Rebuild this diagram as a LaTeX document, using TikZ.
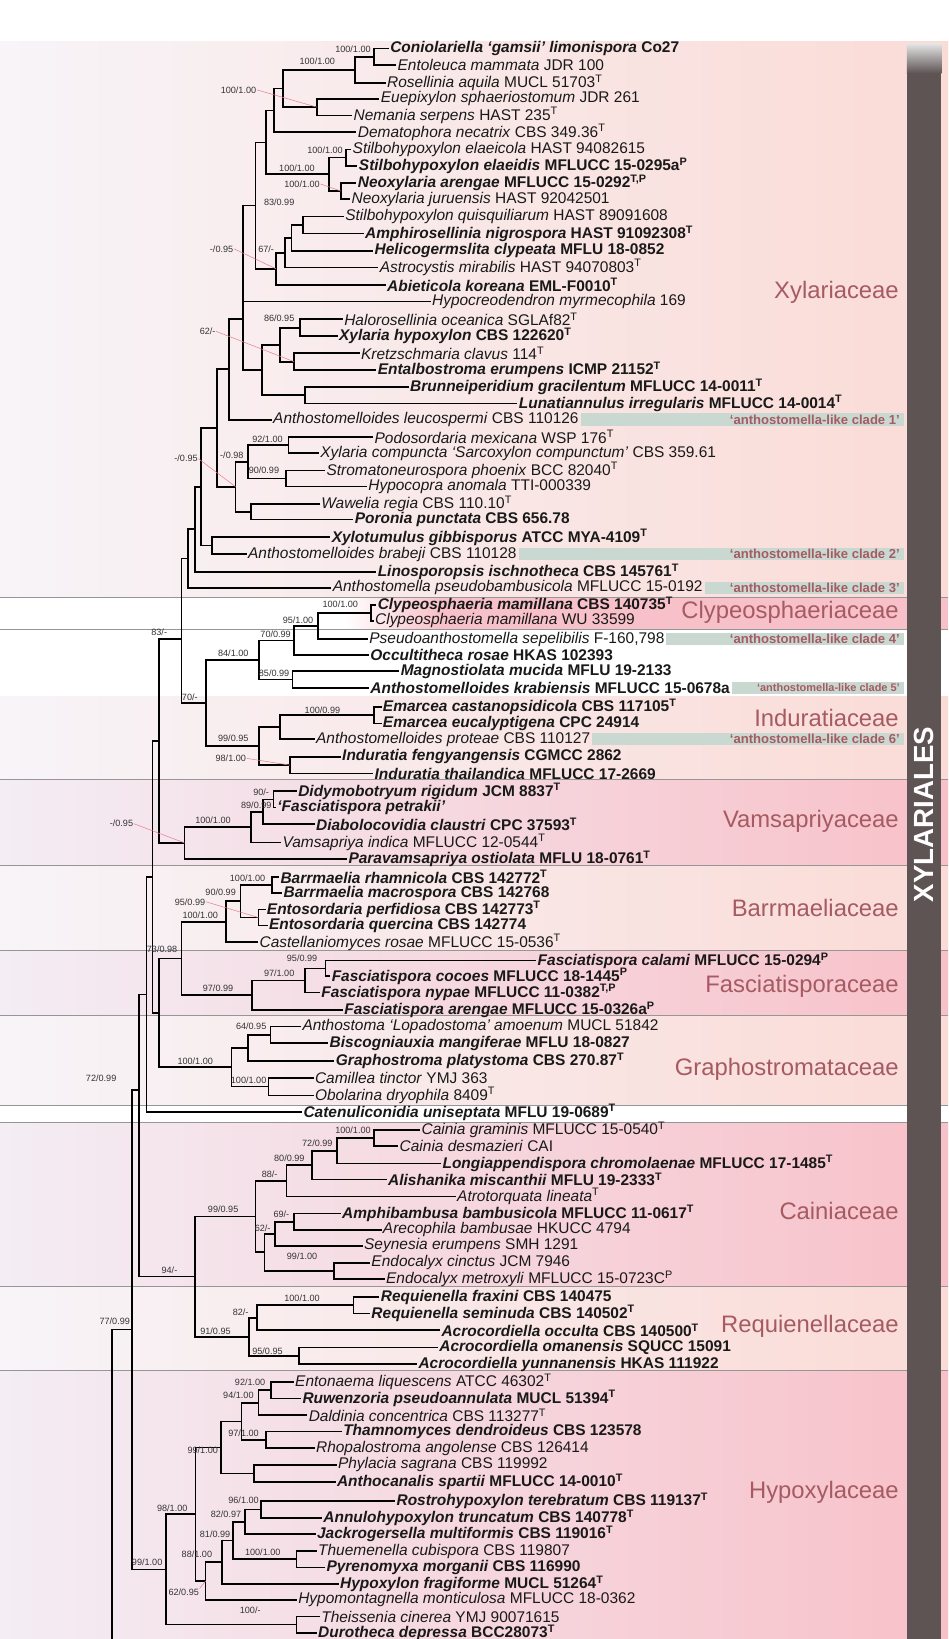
\documentclass[tikz,border=0pt]{standalone}
\usepackage{fontspec}
\setmainfont{Liberation Sans}
\usetikzlibrary{calc}
\definecolor{famcol}{RGB}{166,90,98}
\definecolor{lightL}{RGB}{248,244,248}
\definecolor{lightR}{RGB}{250,219,214}
\definecolor{strongL}{RGB}{244,237,244}
\definecolor{strongR}{RGB}{248,193,201}
\definecolor{barcol}{RGB}{94,84,84}
\definecolor{cladeg}{RGB}{201,217,210}
\definecolor{pinkc}{RGB}{232,128,140}
\definecolor{sepg}{RGB}{150,150,150}
\newcommand\myleaffont{\fontsize{14.8}{15}\selectfont}
\newcommand\mysupfont{\fontsize{8.7}{9}\selectfont}
\newcommand\gi[1]{\textit{#1}}
\newcommand\tsup[1]{\textsuperscript{#1}}
\newcommand\leafn[4]{\node[leafnode] (l#1) at (#2,#3) {#4};}
\newcommand\mkmid[4]{\path let \p1=(#3), \p2=(#4) in coordinate (#1) at (#2pt,{0.5*\y1+0.5*\y2});}
\newcommand\mkclade[4]{\mkmid{#1}{#2}{#3}{#4}\draw[br] (#1) |- (#3) (#1) |- (#4);}
\newcommand\supl[4]{\node[suplab] (s#1) at (#2,#3) {#4};}
\tikzset{
  br/.style={line width=1.6pt,black},
  leafnode/.style={anchor=west,inner xsep=1.2pt,inner ysep=0pt,font=\myleaffont,text=black!90},
  suplab/.style={anchor=east,inner sep=0.5pt,font=\mysupfont,text=black!80},
  pinkln/.style={draw=pinkc,line width=0.5pt},
  sepline/.style={draw=sepg,line width=0.7pt},
  famlab/.style={anchor=east,inner sep=0pt,text=famcol,font=\fontsize{22.8}{23}\selectfont},
  cladelab/.style={anchor=east,inner sep=0pt,text=famcol,font=\fontsize{12.5}{13}\selectfont\bfseries},
}
\begin{document}
\begin{tikzpicture}[x=1pt,y=-1pt]
\useasboundingbox (0,0) rectangle (907,1568);
\fill[white] (0,0) rectangle (907,1568);
% family bands
\shade[left color=lightL,right color=lightR] (0,40) rectangle (907,571.5);
\shade[left color=white,right color=strongR] (330,571.5) rectangle (420,602.5);
\fill[strongR] (420,571.5) rectangle (907,602.5);
\shade[left color=lightL,right color=lightR] (0,666) rectangle (907,746);
\shade[left color=strongL,right color=strongR] (0,746) rectangle (907,827.6);
\shade[left color=lightL,right color=lightR] (0,827.6) rectangle (907,909.6);
\shade[left color=strongL,right color=strongR] (0,909.6) rectangle (907,971.7);
\shade[left color=lightL,right color=lightR] (0,971.7) rectangle (907,1057);
\shade[left color=strongL,right color=strongR] (0,1073.5) rectangle (907,1230.4);
\shade[left color=lightL,right color=lightR] (0,1230.4) rectangle (907,1311);
\shade[left color=strongL,right color=strongR] (0,1311) rectangle (907,1568);
\foreach \yy in {571.5,602.5,746,827.6,909.6,971.7,1057,1073.5,1230.4,1311}
  \draw[sepline] (0,\yy) -- (907,\yy);
% leaves
\leafn{1}{372}{46.3}{\textbf{\gi{Coniolariella ‘gamsii’ limonispora} Co27}}
\leafn{2}{379}{62.2}{\gi{Entoleuca mammata} JDR 100}
\leafn{3}{369}{79.5}{\gi{Rosellinia aquila} MUCL 51703\tsup{T}}
\leafn{4}{363}{94.5}{\gi{Euepixylon sphaeriostomum} JDR 261}
\leafn{5}{337}{110.5}{\gi{Nemania serpens} HAST 235\tsup{T}}
\leafn{6}{341}{126.5}{\gi{Dematophora necatrix} CBS 349.36\tsup{T}}
\leafn{7}{336}{143}{\gi{Stilbohypoxylon elaeicola} HAST 94082615}
\leafn{8}{342}{158.5}{\textbf{\gi{Stilbohypoxylon elaeidis} MFLUCC 15-0295a\tsup{P}}}
\leafn{9}{341}{175}{\textbf{\gi{Neoxylaria arengae} MFLUCC 15-0292\tsup{T,P}}}
\leafn{10}{335}{190.5}{\gi{Neoxylaria juruensis} HAST 92042501}
\leafn{11}{329}{207}{\gi{Stilbohypoxylon quisquiliarum} HAST 89091608}
\leafn{12}{348}{223.5}{\textbf{\gi{Amphirosellinia nigrospora} HAST 91092308\tsup{T}}}
\leafn{13}{357}{240}{\textbf{\gi{Helicogermslita clypeata} MFLU 18-0852}}
\leafn{14}{362}{256}{\gi{Astrocystis mirabilis} HAST 94070803\tsup{T}}
\leafn{15}{369}{272.5}{\textbf{\gi{Abieticola koreana} EML-F0010\tsup{T}}}
\leafn{16}{412}{288.5}{\gi{Hypocreodendron myrmecophila} 169}
\leafn{17}{328}{305.5}{\gi{Halorosellinia oceanica} SGLAf82\tsup{T}}
\leafn{18}{323}{321.5}{\textbf{\gi{Xylaria hypoxylon} CBS 122620\tsup{T}}}
\leafn{19}{344}{338}{\gi{Kretzschmaria clavus} 114\tsup{T}}
\leafn{20}{360}{354}{\textbf{\gi{Entalbostroma erumpens} ICMP 21152\tsup{T}}}
\leafn{21}{391}{370}{\textbf{\gi{Brunneiperidium gracilentum} MFLUCC 14-0011\tsup{T}}}
\leafn{22}{495}{386}{\textbf{\gi{Lunatiannulus irregularis} MFLUCC 14-0014\tsup{T}}}
\leafn{23}{260}{401.5}{\gi{Anthostomelloides leucospermi} CBS 110126}
\leafn{24}{357}{418}{\gi{Podosordaria mexicana} WSP 176\tsup{T}}
\leafn{25}{305}{433.5}{\gi{Xylaria compuncta ‘Sarcoxylon compunctum’} CBS 359.61}
\leafn{26}{311}{450}{\gi{Stromatoneurospora phoenix} BCC 82040\tsup{T}}
\leafn{27}{351}{465.5}{\gi{Hypocopra anomala} TTI-000339}
\leafn{28}{306}{482}{\gi{Wawelia regia} CBS 110.10\tsup{T}}
\leafn{29}{338}{497}{\textbf{\gi{Poronia punctata} CBS 656.78}}
\leafn{30}{316}{514}{\textbf{\gi{Xylotumulus gibbisporus} ATCC MYA-4109\tsup{T}}}
\leafn{31}{236}{530}{\gi{Anthostomelloides brabeji} CBS 110128}
\leafn{32}{360}{547}{\textbf{\gi{Linosporopsis ischnotheca} CBS 145761\tsup{T}}}
\leafn{33}{317}{562.5}{\gi{Anthostomella pseudobambusicola} MFLUCC 15-0192}
\leafn{34}{360}{578.5}{\textbf{\gi{Clypeosphaeria mamillana} CBS 140735\tsup{T}}}
\leafn{35}{357.5}{594}{\gi{Clypeosphaeria mamillana} WU 33599}
\leafn{36}{352}{611.5}{\gi{Pseudoanthostomella sepelibilis} F-160,798}
\leafn{37}{353}{626.5}{\textbf{\gi{Occultitheca rosae} HKAS 102393}}
\leafn{38}{382}{642}{\textbf{\gi{Magnostiolata mucida} MFLU 19-2133}}
\leafn{39}{353}{658}{\textbf{\gi{Anthostomelloides krabiensis} MFLUCC 15-0678a}}
\leafn{40}{365}{676.5}{\textbf{\gi{Emarcea castanopsidicola} CBS 117105\tsup{T}}}
\leafn{41}{365}{692}{\textbf{\gi{Emarcea eucalyptigena} CPC 24914}}
\leafn{42}{301}{707}{\gi{Anthostomelloides proteae} CBS 110127}
\leafn{43}{326}{724}{\textbf{\gi{Induratia fengyangensis} CGMCC 2862}}
\leafn{44}{357}{740}{\textbf{\gi{Induratia thailandica} MFLUCC 17-2669}}
\leafn{45}{284}{757}{\textbf{\gi{Didymobotryum rigidum} JCM 8837\tsup{T}}}
\leafn{46}{264}{772.5}{\textbf{\gi{‘Fasciatispora petrakii’}}}
\leafn{47}{301}{788.5}{\textbf{\gi{Diabolocovidia claustri} CPC 37593\tsup{T}}}
\leafn{48}{269}{806}{\gi{Vamsapriya indica} MFLUCC 12-0544\tsup{T}}
\leafn{49}{332}{821.5}{\textbf{\gi{Paravamsapriya ostiolata} MFLU 18-0761\tsup{T}}}
\leafn{50}{267}{839}{\textbf{\gi{Barrmaelia rhamnicola} CBS 142772\tsup{T}}}
\leafn{51}{270}{854.5}{\textbf{\gi{Barrmaelia macrospora} CBS 142768}}
\leafn{52}{254}{870}{\textbf{\gi{Entosordaria perfidiosa} CBS 142773\tsup{T}}}
\leafn{53}{256}{885.5}{\textbf{\gi{Entosordaria quercina} CBS 142774}}
\leafn{54}{247}{901.5}{\gi{Castellaniomyces rosae} MFLUCC 15-0536\tsup{T}}
\leafn{55}{513}{919}{\textbf{\gi{Fasciatispora calami} MFLUCC 15-0294\tsup{P}}}
\leafn{56}{316}{934}{\textbf{\gi{Fasciatispora cocoes} MFLUCC 18-1445\tsup{P}}}
\leafn{57}{306}{949.5}{\textbf{\gi{Fasciatispora nypae} MFLUCC 11-0382\tsup{T,P}}}
\leafn{58}{328}{966}{\textbf{\gi{Fasciatispora arengae} MFLUCC 15-0326a\tsup{P}}}
\leafn{59}{288}{982}{\gi{Anthostoma ‘Lopadostoma’ amoenum} MUCL 51842}
\leafn{60}{314}{998}{\textbf{\gi{Biscogniauxia mangiferae} MFLU 18-0827}}
\leafn{61}{320}{1015}{\textbf{\gi{Graphostroma platystoma} CBS 270.87\tsup{T}}}
\leafn{62}{300}{1031}{\gi{Camillea tinctor} YMJ 363}
\leafn{63}{300}{1048}{\gi{Obolarina dryophila} 8409\tsup{T}}
\leafn{64}{289}{1064}{\textbf{\gi{Catenuliconidia uniseptata} MFLU 19-0689\tsup{T}}}
\leafn{65}{402}{1081}{\gi{Cainia graminis} MFLUCC 15-0540\tsup{T}}
\leafn{66}{381}{1096.5}{\gi{Cainia desmazieri} CAI}
\leafn{67}{422}{1113}{\textbf{\gi{Longiappendispora chromolaenae} MFLUCC 17-1485\tsup{T}}}
\leafn{68}{370}{1128.5}{\textbf{\gi{Alishanika miscanthii} MFLU 19-2333\tsup{T}}}
\leafn{69}{436}{1144.5}{\gi{Atrotorquata lineata}\tsup{T}}
\leafn{70}{326}{1161}{\textbf{\gi{Amphibambusa bambusicola} MFLUCC 11-0617\tsup{T}}}
\leafn{71}{365}{1176.5}{\gi{Arecophila bambusae} HKUCC 4794}
\leafn{72}{347}{1192}{\gi{Seynesia erumpens} SMH 1291}
\leafn{73}{354}{1208}{\gi{Endocalyx cinctus} JCM 7946}
\leafn{74}{368}{1223.5}{\gi{Endocalyx metroxyli} MFLUCC 15-0723C\tsup{P}}
\leafn{75}{363}{1241}{\textbf{\gi{Requienella fraxini} CBS 140475}}
\leafn{76}{354}{1256.5}{\textbf{\gi{Requienella seminuda} CBS 140502\tsup{T}}}
\leafn{77}{421}{1272.5}{\textbf{\gi{Acrocordiella occulta} CBS 140500\tsup{T}}}
\leafn{78}{419}{1289}{\textbf{\gi{Acrocordiella omanensis} SQUCC 15091}}
\leafn{79}{399}{1305}{\textbf{\gi{Acrocordiella yunnanensis} HKAS 111922}}
\leafn{80}{281}{1322}{\gi{Entonaema liquescens} ATCC 46302\tsup{T}}
\leafn{81}{288}{1338}{\textbf{\gi{Ruwenzoria pseudoannulata} MUCL 51394\tsup{T}}}
\leafn{82}{294}{1354}{\gi{Daldinia concentrica} CBS 113277\tsup{T}}
\leafn{83}{327}{1369.5}{\textbf{\gi{Thamnomyces dendroideus} CBS 123578}}
\leafn{84}{301}{1385.5}{\gi{Rhopalostroma angolense} CBS 126414}
\leafn{85}{322}{1401.5}{\gi{Phylacia sagrana} CBS 119992}
\leafn{86}{321}{1417.5}{\textbf{\gi{Anthocanalis spartii} MFLUCC 14-0010\tsup{T}}}
\leafn{87}{378}{1436}{\textbf{\gi{Rostrohypoxylon terebratum} CBS 119137\tsup{T}}}
\leafn{88}{308}{1452}{\textbf{\gi{Annulohypoxylon truncatum} CBS 140778\tsup{T}}}
\leafn{89}{302}{1467.5}{\textbf{\gi{Jackrogersella multiformis} CBS 119016\tsup{T}}}
\leafn{90}{303}{1484}{\gi{Thuemenella cubispora} CBS 119807}
\leafn{91}{311}{1499.5}{\textbf{\gi{Pyrenomyxa morganii} CBS 116990}}
\leafn{92}{324}{1515.5}{\textbf{\gi{Hypoxylon fragiforme} MUCL 51264\tsup{T}}}
\leafn{93}{284}{1530.5}{\gi{Hypomontagnella monticulosa} MFLUCC 18-0362}
\leafn{94}{306}{1546.5}{\gi{Theissenia cinerea} YMJ 90071615}
\leafn{95}{303}{1562}{\textbf{\gi{Durotheca depressa} BCC28073\tsup{T}}}
% Xylariaceae
\mkclade{A}{357.7}{l1}{l2}
\mkclade{B}{339.7}{A}{l3}
\mkclade{C}{303}{l4}{l5}
\mkclade{D}{271}{B}{C}
\mkclade{E}{262}{D}{l6}
\mkclade{F}{331}{l7}{l8}
\mkclade{G}{326}{l9}{l10}
\mkclade{H}{315}{F}{G}
\mkclade{EE}{254.5}{E}{H}
\mkclade{I}{289.6}{l11}{l12}
\mkclade{J}{279}{I}{l13}
\mkclade{K}{272.5}{J}{l14}
\mkclade{L}{264}{K}{l15}
\mkclade{M}{244.3}{EE}{L}
\mkclade{Qa}{287}{l17}{l18}
\mkclade{Qb}{281.3}{l19}{l20}
\mkclade{Qc}{267.7}{Qa}{Qb}
\mkclade{Qd}{292}{l21}{l22}
\mkclade{Qe}{250.6}{Qc}{Qd}
\coordinate (X12) at (232.6,305);
\draw[br] (X12) |- (M) (X12) |- (l16) (X12) |- (Qe);
\mkclade{X13}{219}{X12}{l23}
\mkclade{Ra}{276}{l24}{l25}
\mkclade{Rb}{273.5}{l26}{l27}
\mkclade{Rc}{237}{Ra}{Rb}
\mkclade{Rd}{240}{l28}{l29}
\mkclade{Re}{225.3}{Rc}{Rd}
\mkclade{X14}{207.8}{X13}{Re}
\mkclade{Rf}{203}{l30}{l31}
\mkclade{X15}{192}{X14}{Rf}
\mkclade{X16}{186.3}{X15}{l32}
\mkclade{X17}{180}{X16}{l33}
% Clypeosphaeriaceae / Induratiaceae
\mkclade{Sa}{355}{l34}{l35}
\mkclade{Sb}{304.2}{Sa}{l36}
\mkclade{Sc}{281.3}{Sb}{l37}
\mkclade{Sd}{279.8}{l38}{l39}
\mkclade{Se}{248}{Sc}{Sd}
\mkclade{Ta}{358}{l40}{l41}
\mkclade{Tb}{267.7}{Ta}{l42}
\mkclade{Tc}{277.4}{l43}{l44}
\mkclade{Td}{248}{Tb}{Tc}
\mkclade{Y1}{197}{Se}{Td}
\coordinate (Z) at (173.7,611);
\draw[br] (Z) |- (X17) (Z) |- (Y1);
% Vamsapriyaceae
\mkclade{Va}{261.8}{l45}{l46}
\mkclade{Vb}{251.6}{Va}{l47}
\mkclade{Vc}{240}{Vb}{l48}
\mkclade{Vd}{176.6}{Vc}{l49}
\mkclade{W1}{152}{Z}{Vd}
% Barrmaeliaceae, Fasciatisporaceae, Graphostromataceae
\mkclade{Ba}{260.4}{l50}{l51}
\mkclade{Bb}{247.2}{l52}{l53}
\mkclade{Bc}{230.2}{Ba}{Bb}
\mkclade{Bd}{216.5}{Bc}{l54}
\mkclade{Fa}{311.5}{l55}{l56}
\mkclade{Fb}{292}{Fa}{l57}
\mkclade{Fc}{240.9}{Fb}{l58}
\mkclade{BF}{173.7}{Bd}{Fc}
\mkclade{Ga}{258.9}{l59}{l60}
\mkclade{Gb}{237}{Ga}{l61}
\mkclade{Gc}{257}{l62}{l63}
\mkclade{Gd}{221.4}{Gb}{Gc}
\mkclade{BFG}{152.3}{BF}{Gd}
\mkclade{W2}{146}{W1}{BFG}
\mkclade{W3}{140}{W2}{l64}
% Cainiaceae, Requienellaceae
\mkclade{Ka}{357.7}{l65}{l66}
\mkclade{Kb}{322.7}{Ka}{l67}
\mkclade{Kc}{298.3}{Kb}{l68}
\mkclade{Kd}{274}{Kc}{l69}
\mkclade{Ke}{281.3}{l70}{l71}
\mkclade{Kf}{263}{Ke}{l72}
\mkclade{Kg}{319.8}{l73}{l74}
\mkclade{Kh}{253}{Kf}{Kg}
\mkclade{Ki}{244.3}{Kd}{Kh}
\mkclade{Pa}{338.3}{l75}{l76}
\mkclade{Pb}{246}{Pa}{l77}
\mkclade{Pc}{286.2}{l78}{l79}
\mkclade{Pd}{238}{Pb}{Pc}
\mkclade{KQ}{186.3}{Ki}{Pd}
\coordinate (W4) at (133,1043);
\draw[br] (W4) |- (W3) (W4) |- (KQ);
% Hypoxylaceae
\mkclade{Ha}{259.4}{l80}{l81}
\mkclade{Hb}{247.2}{Ha}{l82}
\mkclade{Hc}{254.5}{l83}{l84}
\mkclade{Hd}{231.1}{Hb}{Hc}
\mkclade{He}{243.3}{l85}{l86}
\mkclade{Hf}{211.7}{Hd}{He}
\mkclade{Hg}{250}{l87}{l88}
\mkclade{Hh}{234.3}{Hg}{l89}
\mkclade{Hi}{283.5}{l90}{l91}
\mkclade{Hj}{222.7}{Hh}{Hi}
\mkclade{Hk}{212.3}{Hj}{l92}
\mkclade{Hl}{196.7}{Hk}{l93}
\mkclade{Hm}{187}{Hf}{Hl}
\mkclade{Hn}{283.5}{l94}{l95}
\mkclade{Ho}{159}{Hm}{Hn}
\coordinate (U) at (126,1272);
\draw[br] (U) |- (W4) (U) |- (Ho);
\coordinate (R0) at (107,1272);
\coordinate (R0b) at (107,1568);
\draw[br] (U) -- (R0) -- (R0b);
% support values
\supl{A}{355.3}{47}{100/1.00}
\supl{B}{321.2}{59}{100/1.00}
\supl{C}{245.8}{86}{100/1.00}
\supl{F}{328.6}{143.6}{100/1.00}
\supl{H}{301.7}{160.5}{100/1.00}
\supl{G}{306.6}{176}{100/1.00}
\supl{I}{282.3}{193.6}{83/0.99}
\supl{K}{262.8}{238.3}{67/-}
\supl{L}{223.8}{238}{-/0.95}
\supl{Qa}{282.3}{304.3}{86/0.95}
\supl{Qb}{206.8}{317}{62/-}
\supl{Ra}{271.1}{420}{92/1.00}
\supl{Rc}{233.6}{435.6}{-/0.98}
\supl{Rb}{267.7}{450}{90/0.99}
\supl{Re}{189.8}{438.8}{-/0.95}
\supl{Sa}{343.2}{578}{100/1.00}
\supl{Sb}{300.3}{593.5}{95/1.00}
\supl{Sc}{278.9}{606.3}{70/0.99}
\supl{Se}{238.4}{625.4}{84/1.00}
\supl{Sd}{277.4}{643.6}{85/0.99}
\supl{Z}{160.5}{605}{83/-}
\supl{Y1}{189.8}{667.5}{70/-}
\supl{Ta}{326.1}{679.3}{100/0.99}
\supl{Td}{238.4}{706.4}{99/0.95}
\supl{Tc}{236}{725.5}{98/1.00}
\supl{Va}{258}{758}{90/-}
\supl{Vb}{260.4}{770}{89/0.99}
\supl{Vc}{221.4}{784.6}{100/1.00}
\supl{Vd}{128}{788}{-/0.95}
\supl{Ba}{254.5}{840.5}{100/1.00}
\supl{Bc}{226.3}{853.7}{90/0.99}
\supl{Bb}{197}{862.7}{95/0.99}
\supl{Bd}{209.2}{876}{100/1.00}
\supl{BF}{170.3}{908}{73/0.98}
\supl{Fa}{304.2}{916.9}{95/0.99}
\supl{Fb}{282.3}{931}{97/1.00}
\supl{Fc}{223.8}{945.3}{97/0.99}
\supl{Ga}{255.5}{982}{64/0.95}
\supl{Gd}{204.4}{1015.5}{100/1.00}
\supl{Gc}{255.5}{1033}{100/1.00}
\supl{W4}{112}{1032}{72/0.99}
\supl{Ka}{355.3}{1080.8}{100/1.00}
\supl{Kb}{318.8}{1093.6}{72/0.99}
\supl{Kc}{292}{1107.6}{80/0.99}
\supl{Kd}{266.2}{1122.9}{88/-}
\supl{Ki}{228.7}{1156.4}{99/0.95}
\supl{Ke}{277.4}{1161.8}{69/-}
\supl{Kf}{259.5}{1174.6}{62/-}
\supl{Kg}{304.2}{1201.7}{99/1.00}
\supl{KQ}{170.3}{1215.4}{94/-}
\supl{Pa}{306.6}{1242.2}{100/1.00}
\supl{Pb}{238.4}{1255}{82/-}
\supl{Pd}{221.4}{1273.4}{91/0.95}
\supl{Pc}{271.1}{1292.6}{95/0.95}
\supl{U}{125}{1264}{77/0.99}
\supl{Ha}{254.5}{1321.9}{92/1.00}
\supl{Hb}{243.3}{1334.6}{94/1.00}
\supl{Hc}{248.2}{1371.3}{97/1.00}
\supl{Hf}{209.2}{1387.3}{99/1.00}
\supl{Hm}{180}{1442.5}{98/1.00}
\supl{Hg}{248.2}{1435}{96/1.00}
\supl{Hh}{231.4}{1448.5}{82/0.97}
\supl{Hj}{221}{1467.6}{81/0.99}
\supl{Hi}{269}{1485.2}{100/1.00}
\supl{Hk}{203.6}{1486.8}{88/1.00}
\supl{Hl}{191}{1523.5}{62/0.95}
\supl{Ho}{156}{1494.7}{99/1.00}
\supl{Hn}{250}{1540}{100/-}
% pink pointer lines
\draw[pinkln] (sC.east) -- (C);
\draw[pinkln] (sG.east) -- (G);
\draw[pinkln] (sL.east) -- (L);
\draw[pinkln] (sQb.east) -- (Qb);
\draw[pinkln] (sRe.east) -- (Re);
\draw[pinkln] (sTc.east) -- (Tc);
\draw[pinkln] (sVd.east) -- (Vd);
\draw[pinkln] (sBb.east) -- (Bb);
\draw[pinkln] (sHl.north east) -- (Hl);
% anthostomella-like clades
\fill[cladeg] ($(l23.east)+(0.5,-6)$) rectangle (865,407.5);
\node[cladelab] (c1) at (861,401.5) {‘anthostomella-like clade 1’};
\fill[cladeg] ($(l31.east)+(0.5,-6)$) rectangle (865,536);
\node[cladelab] (c2) at (861,530) {‘anthostomella-like clade 2’};
\fill[cladeg] ($(l33.east)+(0.5,-6)$) rectangle (865,568.5);
\node[cladelab] (c3) at (861,562.5) {‘anthostomella-like clade 3’};
\fill[cladeg] ($(l36.east)+(0.5,-6)$) rectangle (865,617.5);
\node[cladelab] (c4) at (861,611.5) {‘anthostomella-like clade 4’};
\fill[cladeg] ($(l39.east)+(0.5,-6)$) rectangle (865,664);
\node[cladelab,font=\fontsize{10.5}{11}\selectfont\bfseries] (c5) at (861,658) {‘anthostomella-like clade 5’};
\fill[cladeg] ($(l42.east)+(0.5,-6)$) rectangle (865,713);
\node[cladelab] (c6) at (861,707) {‘anthostomella-like clade 6’};
% family labels
\node[famlab] (fXy) at (860,279.7) {Xylariaceae};
\node[famlab] (fCl) at (860,586) {Clypeosphaeriaceae};
\node[famlab] (fIn) at (860,687.3) {Induratiaceae};
\node[famlab] (fVa) at (860,786) {Vamsapriyaceae};
\node[famlab] (fBa) at (860,869) {Barrmaeliaceae};
\node[famlab] (fFa) at (860,943.7) {Fasciatisporaceae};
\node[famlab] (fGr) at (860,1023.4) {Graphostromataceae};
\node[famlab] (fCa) at (860,1158.6) {Cainiaceae};
\node[famlab] (fRe) at (860,1268.6) {Requienellaceae};
\node[famlab] (fHy) at (860,1427.8) {Hypoxylaceae};
% order bar
\shade[top color=black!10,bottom color=barcol] (867.5,41.5) rectangle (900.6,70);
\fill[barcol] (867.5,70) rectangle (900.6,1568);
\node[rotate=90,text=white,inner sep=0pt,font=\fontsize{26.5}{27}\selectfont\bfseries] (xyl) at (884,779) {XYLARIALES};
\end{tikzpicture}
\end{document}
